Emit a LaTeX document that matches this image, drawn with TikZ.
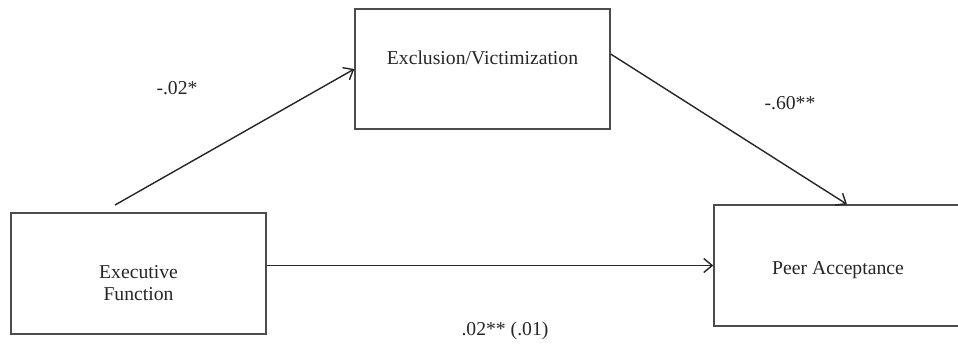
\documentclass[tikz,border=0pt]{standalone}
\usepackage{fontspec}
\setmainfont{Liberation Serif}
\usepackage{xcolor}
\definecolor{boxline}{rgb}{0.3,0.3,0.3}
\definecolor{pathline}{rgb}{0.15,0.15,0.15}
\usetikzlibrary{arrows.meta}
\usetikzlibrary{positioning}

\tikzset{
  varbox/.style={draw=boxline, line width=0.8pt, fill=white, minimum height=2.42cm, inner sep=0pt},
  vartext/.style={align=center, font=\fontsize{11.2}{13}\selectfont, text=black!85},
  path coef/.style={font=\fontsize{11.2}{13}\selectfont, text=black!85},
  effect/.style={draw=pathline, line width=0.8pt, ->}
}

\begin{document}
\begin{tikzpicture}[x=0.02cm, y=-0.02cm, >={Straight Barb[length=1.7mm,width=2.8mm]}]
  \clip (0,0) rectangle (958,343);

  % Variables
  \node[varbox, minimum width=5.1cm] (exec) at (138.5,273.5) {};
  \node[vartext] (exectext) at ([yshift=-0.19cm]exec.center) {Executive\\Function};

  \node[varbox, minimum width=5.1cm, minimum height=2.4cm] (excl) at (482.5,69) {};
  \node[vartext] (excltext) at ([yshift=0.22cm]excl.center) {Exclusion/Victimization};

  \node[varbox, minimum width=4.96cm] (peer) at (838,265.5) {};
  \node[vartext] (peertext) at ([yshift=-0.09cm]peer.center) {Peer Acceptance};

  % Paths
  \coordinate (astart) at (115,205);
  \draw[effect] (astart) -- (excl.west);
  \draw[effect] ([yshift=0.3cm]excl.east) -- ([xshift=0.18cm]peer.north);
  \draw[effect] (exec.east |- peer.west) -- (peer.west);

  % Coefficients
  \node[path coef] (acoef) at (177,88) {-.02*};
  \node[path coef] (bcoef) at (790,103) {-.60**};
  \node[path coef] (ccoef) at (505,331) {.02** (.01)};

\end{tikzpicture}
\end{document}
